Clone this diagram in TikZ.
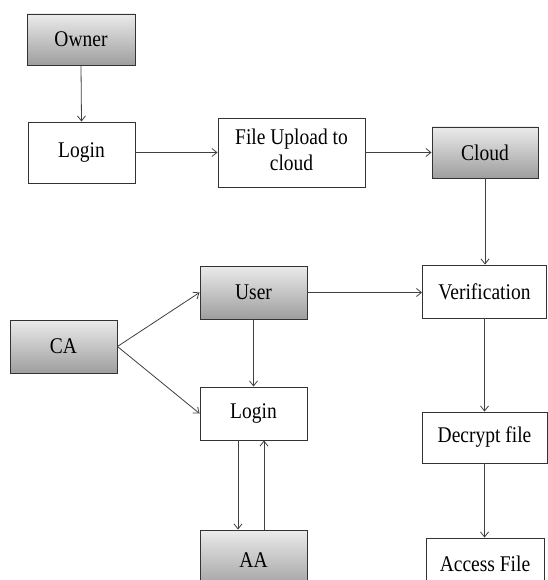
\documentclass[tikz,border=0pt]{standalone}
\usepackage{fontspec}
\setmainfont{LiberationSerif}[Extension=.ttf, UprightFont=*-Regular, BoldFont=*-Bold]
\usetikzlibrary{arrows.meta,shadows}
\newcommand{\tx}[1]{\scalebox{1}[1.15]{#1}}
\begin{document}
\begin{tikzpicture}[x=1pt,y=-1pt,
  box/.style={draw=black!80, line width=0.9pt, inner sep=0pt, font=\rmfamily\fontsize{19.5}{22}\selectfont, align=center},
  wbox/.style={box, fill=white},
  gbox/.style={box, top color=black!8, bottom color=black!38, drop shadow={shadow xshift=1.2pt, shadow yshift=-1.2pt, opacity=0.35}},
  arr/.style={draw=black!75, line width=0.8pt, -{Straight Barb[length=5pt,width=8pt]}}]
\useasboundingbox (0,0) rectangle (547,580);
\fill[white] (0,0) rectangle (547,580);
\node[gbox, minimum width=108pt, minimum height=51pt] (owner) at (81,39.5) {\tx{Owner}};
\node[wbox, minimum width=107pt, minimum height=61pt] (login1) at (81.5,152.5) {\tx{Login}};
\node[wbox, minimum width=147pt, minimum height=69pt] (upload) at (291.5,152.5) {\tx{\begin{tabular}{@{}c@{}}File Upload to\\cloud\end{tabular}}};
\node[gbox, minimum width=106pt, minimum height=51pt] (cloud) at (485,152.5) {\tx{Cloud}};
\node[wbox, minimum width=124pt, minimum height=53pt] (verif) at (484.5,291.5) {\tx{Verification}};
\node[gbox, minimum width=107pt, minimum height=53pt] (user) at (253.5,292.5) {\tx{User}};
\node[gbox, minimum width=107pt, minimum height=53pt] (ca) at (63.5,346.5) {\tx{CA}};
\node[wbox, minimum width=107pt, minimum height=53pt] (login2) at (253.5,413.5) {\tx{Login}};
\node[gbox, minimum width=107pt, minimum height=60pt] (aa) at (253.5,560) {\tx{AA}};
\node[wbox, minimum width=125pt, minimum height=51pt] (decrypt) at (484.5,437.5) {\tx{Decrypt file}};
\node[wbox, minimum width=118pt, minimum height=52pt] (access) at (485,564) {\tx{Access File}};

\draw[arr] (owner.south) -- (login1.north);
\draw[arr] (login1.east) -- (upload.west |- login1.east);
\draw[arr] (upload.east) -- (cloud.west |- upload.east);
\draw[arr] (cloud.south) -- (cloud.south |- verif.north);
\draw[arr] (user.east) -- (verif.west |- user.east);
\draw[arr] (ca.east) -- (user.west);
\draw[arr] (ca.east) -- (login2.west);
\draw[arr] (user.south) -- (login2.north);
\draw[arr] ([xshift=-15.5pt]login2.south) -- ([xshift=-15.5pt]aa.north);
\draw[arr] ([xshift=10.5pt]aa.north) -- ([xshift=10.5pt]login2.south);
\draw[arr] (verif.south) -- (verif.south |- decrypt.north);
\draw[arr] (decrypt.south) -- (decrypt.south |- access.north);
\end{tikzpicture}
\end{document}
